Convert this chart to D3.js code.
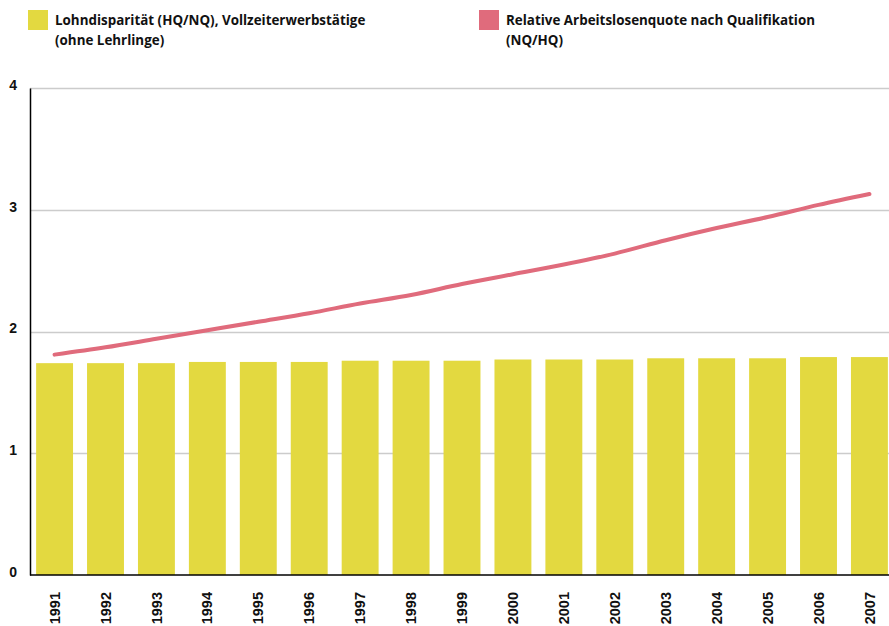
<!DOCTYPE html>
<html>
<head>
<meta charset="utf-8">
<script src="https://cdn.jsdelivr.net/npm/d3@7"></script>
<style>
  body { margin: 0; background: #fff; }
  svg { display: block; }
  .legend text { font-family: "Open Sans", "Noto Sans", sans-serif; font-weight: 700; font-size: 13.4px; fill: #111; }
  .tick text { font-family: "Liberation Sans", Arial, sans-serif; font-weight: 700; }
</style>
</head>
<body>
<svg id="chart" width="889" height="626"></svg>
<script>
// values
var years = ["1991","1992","1993","1994","1995","1996","1997","1998","1999","2000","2001","2002","2003","2004","2005","2006","2007"];
var lohnDisparitaet = [1.74,1.74,1.74,1.75,1.75,1.75,1.76,1.76,1.76,1.77,1.77,1.77,1.78,1.78,1.78,1.79,1.79];
var relArbeitslosenquote = [1.81,1.87,1.94,2.01,2.08,2.15,2.23,2.30,2.39,2.47,2.55,2.64,2.75,2.85,2.94,3.04,3.13];
var yTicks = [0, 1, 2, 3, 4];
var legendLabels = [
  ["Lohndisparität (HQ/NQ), Vollzeiterwerbstätige", "(ohne Lehrlinge)"],
  ["Relative Arbeitslosenquote nach Qualifikation", "(NQ/HQ)"]
];

var YELLOW = "#e3d940", PINK = "#e06b7c";

var svg = d3.select("#chart"),
  MARGINS = { top: 88, right: 0, bottom: 51, left: 30 },
  WIDTH = 889, HEIGHT = 626;

// the last bar runs right up to the edge
var xScale = d3.scaleBand().domain(years)
  .range([MARGINS.left, WIDTH + 5])
  .paddingInner(0.275).paddingOuter(0.12);
var yScale = d3.scaleLinear().domain([0, 4])
  .range([HEIGHT - MARGINS.bottom, MARGINS.top]);

// grid lines
svg.append("g").selectAll("line").data(yTicks.filter(function(d){ return d > 0; }))
  .join("line")
  .attr("x1", MARGINS.left).attr("x2", WIDTH)
  .attr("y1", function(d){ return Math.round(yScale(d)) + 0.5; })
  .attr("y2", function(d){ return Math.round(yScale(d)) + 0.5; })
  .attr("stroke", "#cccccc").attr("stroke-width", 1.5);

// bars
svg.append("g").selectAll("rect").data(years)
  .join("rect")
  .attr("x", function(d){ return xScale(d); })
  .attr("width", xScale.bandwidth())
  .attr("y", function(d, i){ return yScale(lohnDisparitaet[i]); })
  .attr("height", function(d, i){ return yScale(0) - yScale(lohnDisparitaet[i]); })
  .attr("fill", YELLOW);

// line
var line = d3.line()
  .x(function(d, i){ return xScale(years[i]) + xScale.bandwidth() / 2; })
  .y(function(d){ return yScale(d); })
  .curve(d3.curveMonotoneX);
svg.append("path").datum(relArbeitslosenquote)
  .attr("d", line)
  .attr("fill", "none")
  .attr("stroke", PINK)
  .attr("stroke-width", 4)
  .attr("stroke-linecap", "round");

// axes
var yAxis = d3.axisLeft(yScale).tickValues(yTicks).tickFormat(d3.format("d")).tickSize(0).tickPadding(13);
var gy = svg.append("g")
  .attr("transform", "translate(" + MARGINS.left + ",0)")
  .call(yAxis);
gy.select(".domain").attr("stroke", "#000").attr("stroke-width", 1.5);
gy.selectAll(".tick text").attr("font-size", 14).attr("fill", "#111").attr("dy", "0.1em");

var xAxis = d3.axisBottom(xScale).tickSize(0);
var gx = svg.append("g")
  .attr("transform", "translate(0," + yScale(0) + ")")
  .call(xAxis);
gx.select(".domain").attr("d", "M" + MARGINS.left + ",0H" + WIDTH).attr("stroke", "#000").attr("stroke-width", 1.5);
gx.selectAll(".tick text")
  .attr("font-size", 14.5).attr("fill", "#111")
  .attr("text-anchor", "end")
  .attr("transform", "rotate(-90)")
  .attr("x", -17).attr("y", 0).attr("dy", "0.35em");

// legend
var legend = svg.append("g").attr("class", "legend");
var legendX = [28, 479], colors = [YELLOW, PINK];
legendLabels.forEach(function(lines, i){
  var g = legend.append("g").attr("transform", "translate(" + legendX[i] + ",10)");
  g.append("rect").attr("width", 20).attr("height", 20).attr("fill", colors[i]);
  var t = g.append("text").attr("x", 27).attr("y", 15);
  lines.forEach(function(s, j){
    t.append("tspan").attr("x", 27).attr("dy", j === 0 ? 0 : 20).text(s);
  });
});
</script>
</body>
</html>
